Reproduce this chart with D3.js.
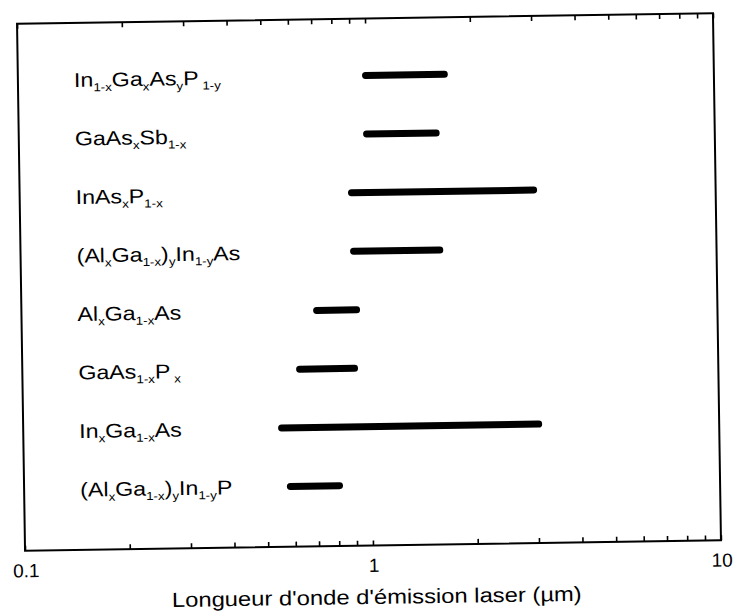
<!DOCTYPE html>
<html>
<head>
<meta charset="utf-8">
<script src="https://d3js.org/d3.v7.min.js"></script>
<style>
  body { margin: 0; background: #fff; }
  svg { display: block; font-family: "Liberation Sans", Arial, sans-serif; }
</style>
</head>
<body>
<svg width="734" height="611"></svg>
<script>
    var width = 734, height = 611;
    var frame = { left: 21, right: 717, top: 18.5, bottom: 545.5 };

    // alloys, top to bottom (subscripts written as _{...})
    var alloys = [
        "In_{1-x}Ga_{x}As_{y}P_{ 1-y}",
        "GaAs_{x}Sb_{1-x}",
        "InAs_{x}P_{1-x}",
        "(Al_{x}Ga_{1-x})_{y}In_{1-y}As",
        "Al_{x}Ga_{1-x}As",
        "GaAs_{1-x}P_{ x}",
        "In_{x}Ga_{1-x}As",
        "(Al_{x}Ga_{1-x})_{y}In_{1-y}P"
    ];
    // emission wavelength range (µm)
    var lambdaMin = [0.975, 0.976, 0.878, 0.885, 0.689, 0.612, 0.540, 0.569];
    var lambdaMax = [1.72, 1.62, 3.07, 1.64, 0.94, 0.922, 3.10, 0.825];
    var tickLabels = [0.1, 1, 10];

    var data = alloys.map((a, i) => ({ name: a, lo: lambdaMin[i], hi: lambdaMax[i] }));

    var x = d3.scaleLog()
        .domain([0.1, 10])
        .range([frame.left, frame.right]);

    var y = d3.scalePoint()
        .domain(alloys)
        .range([75.5, 485.2]);

    var svg = d3.select('svg')
        .attr('viewBox', [0, 0, width, height]);

    svg.append('rect')
        .attr('width', width).attr('height', height).attr('fill', '#fff');

    // the scan is slightly tilted
    var g = svg.append('g')
        .attr('transform', 'rotate(-0.87, 369, 282)');

    // frame
    g.append('rect')
        .attr('x', frame.left)
        .attr('y', frame.top)
        .attr('width', frame.right - frame.left)
        .attr('height', frame.bottom - frame.top)
        .attr('fill', 'none')
        .attr('stroke', '#000')
        .attr('stroke-width', 2);

    // inward ticks top and bottom
    g.append('g')
        .attr('transform', `translate(0,${frame.bottom})`)
        .call(d3.axisBottom(x).tickSizeInner(-5).tickSizeOuter(0).tickFormat(''))
        .call(a => a.select('.domain').remove())
        .call(a => a.selectAll('line').attr('stroke-width', 1.6));

    g.append('g')
        .attr('transform', `translate(0,${frame.top})`)
        .call(d3.axisTop(x).tickSizeInner(-5).tickSizeOuter(0).tickFormat(''))
        .call(a => a.select('.domain').remove())
        .call(a => a.selectAll('line').attr('stroke-width', 1.6));

    // tick labels
    g.append('g')
        .selectAll('text')
        .data(tickLabels)
        .join('text')
        .attr('x', d => x(d) + 1)
        .attr('y', 572)
        .attr('text-anchor', 'middle')
        .attr('font-size', 19)
        .attr('fill', '#000')
        .text(d => d);

    // axis title
    g.append('text')
        .attr('transform', 'translate(372,604) scale(1.16,1)')
        .attr('text-anchor', 'middle')
        .attr('font-size', 20.5)
        .attr('fill', '#000')
        .text("Longueur d'onde d'émission laser (µm)");

    // bars
    g.append('g')
        .selectAll('rect')
        .data(data)
        .join('rect')
        .attr('x', d => x(d.lo))
        .attr('y', d => y(d.name) - 3.5)
        .attr('width', d => x(d.hi) - x(d.lo))
        .attr('height', 7)
        .attr('rx', 3.5)
        .attr('fill', '#000');

    // labels with subscripts
    function parts(s) {
        var out = [], re = /_\{([^}]*)\}|([^_]+)/g, m;
        while ((m = re.exec(s))) {
            if (m[1] !== undefined) out.push({ t: m[1], sub: true });
            else out.push({ t: m[2], sub: false });
        }
        return out;
    }

    var labels = g.append('g')
        .selectAll('text')
        .data(data)
        .join('text')
        .attr('transform', d => `translate(77,${y(d.name) + 7}) scale(1.16,1)`)
        .attr('font-size', 20)
        .attr('fill', '#000')
        .style('white-space', 'pre');

    labels.each(function(d) {
        var t = d3.select(this), prevSub = false;
        parts(d.name).forEach(p => {
            t.append('tspan')
                .attr('font-size', p.sub ? 11.5 : 20)
                .attr('dy', p.sub ? (prevSub ? 0 : 4.5) : (prevSub ? -4.5 : 0))
                .text(p.t);
            prevSub = p.sub;
        });
    });
</script>
</body>
</html>
